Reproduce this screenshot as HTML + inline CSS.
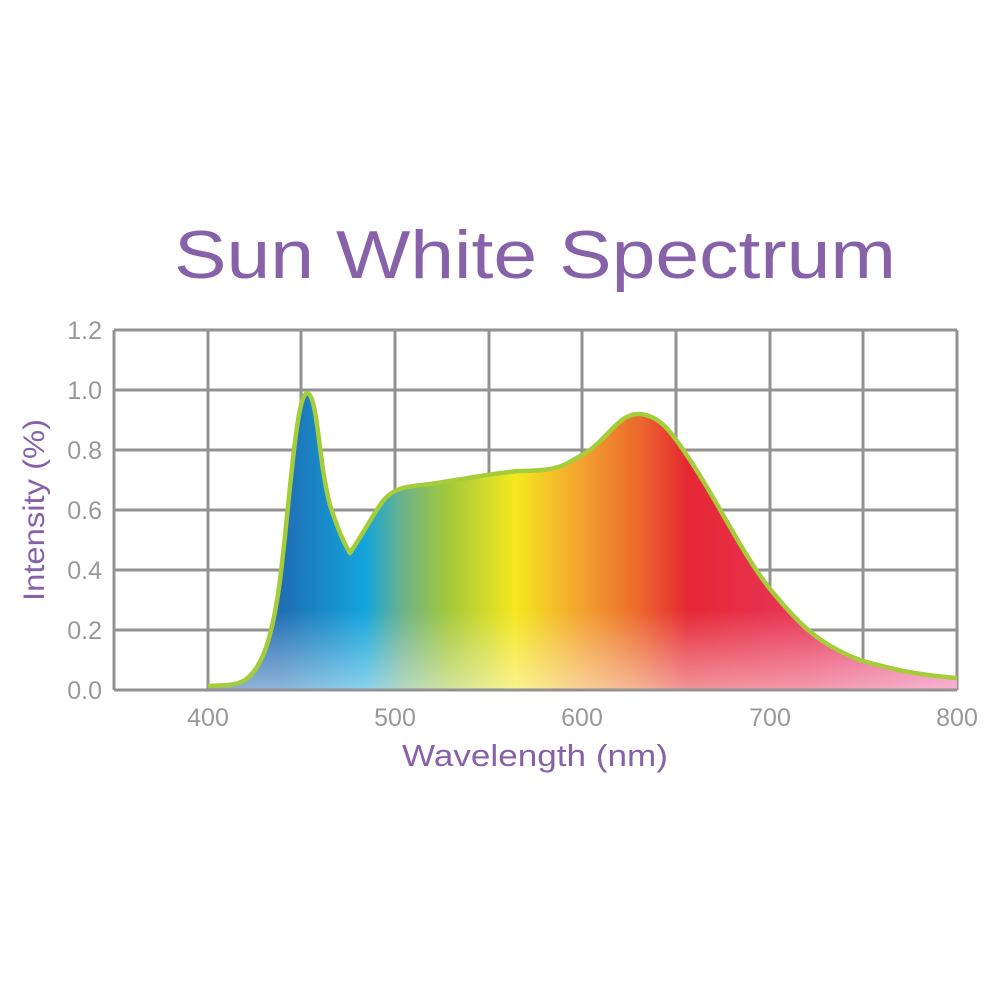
<!DOCTYPE html>
<html><head><style>html,body{margin:0;padding:0;background:#fff;}svg{display:block}</style></head>
<body>
<svg width="1000" height="1000" viewBox="0 0 1000 1000" xmlns="http://www.w3.org/2000/svg" font-family="Liberation Sans, sans-serif">
<defs>
<linearGradient id="h" x1="208" y1="0" x2="957" y2="0" gradientUnits="userSpaceOnUse">
<stop offset="0" stop-color="#2a5ca8"/>
<stop offset="0.1" stop-color="#1f6fb4"/>
<stop offset="0.21" stop-color="#13a5dc"/>
<stop offset="0.26" stop-color="#6cb28a"/>
<stop offset="0.32" stop-color="#a2c83a"/>
<stop offset="0.41" stop-color="#f5e81e"/>
<stop offset="0.5" stop-color="#f3a130"/>
<stop offset="0.57" stop-color="#ec6d2c"/>
<stop offset="0.64" stop-color="#e62734"/>
<stop offset="0.8" stop-color="#e8375a"/>
<stop offset="1" stop-color="#ee6aa6"/>
</linearGradient>
<linearGradient id="v" x1="0" y1="610" x2="0" y2="690" gradientUnits="userSpaceOnUse">
<stop offset="0" stop-color="#fff" stop-opacity="0"/>
<stop offset="1" stop-color="#fff" stop-opacity="0.5"/>
</linearGradient>
</defs>
<text x="535" y="278" text-anchor="middle" font-size="68" fill="#8762a9" textLength="722" lengthAdjust="spacingAndGlyphs">Sun White Spectrum</text>
<g stroke="#929292" stroke-width="3" fill="none">
<path d="M114 330H957M114 390H957M114 450H957M114 510H957M114 570H957M114 630H957"/>
<path d="M114 330V690M208 330V690M301 330V690M395 330V690M489 330V690M582 330V690M676 330V690M770 330V690M863 330V690M957 330V690"/>
</g>
<path d="M208 686 C225 685 235 686 245 680 C262 668 272 640 280 580 C290 500 296 395 307 393 C318 395 318 460 330 505 C338 530 345 545 350 553 C362 535 370 520 380 505 C392 487 405 487 430 484 C470 478 500 472 520 471 C560 470 560 468 590 450 C610 435 620 413 640 414 C660 416 670 430 690 460 C720 505 745 560 775 595 C800 625 820 645 860 660 C900 672 930 676 957 678 L957 690 L208 690 Z" fill="url(#h)"/>
<path d="M208 686 C225 685 235 686 245 680 C262 668 272 640 280 580 C290 500 296 395 307 393 C318 395 318 460 330 505 C338 530 345 545 350 553 C362 535 370 520 380 505 C392 487 405 487 430 484 C470 478 500 472 520 471 C560 470 560 468 590 450 C610 435 620 413 640 414 C660 416 670 430 690 460 C720 505 745 560 775 595 C800 625 820 645 860 660 C900 672 930 676 957 678 L957 690 L208 690 Z" fill="url(#v)"/>
<path d="M208 686 C225 685 235 686 245 680 C262 668 272 640 280 580 C290 500 296 395 307 393 C318 395 318 460 330 505 C338 530 345 545 350 553 C362 535 370 520 380 505 C392 487 405 487 430 484 C470 478 500 472 520 471 C560 470 560 468 590 450 C610 435 620 413 640 414 C660 416 670 430 690 460 C720 505 745 560 775 595 C800 625 820 645 860 660 C900 672 930 676 957 678" fill="none" stroke="#a4cd39" stroke-width="4.5" stroke-linejoin="round"/>
<path d="M114 690H957" stroke="#929292" stroke-width="3"/>
<g fill="#999" font-size="25" text-anchor="end">
<text x="102" y="339">1.2</text><text x="102" y="399">1.0</text><text x="102" y="459">0.8</text>
<text x="102" y="519">0.6</text><text x="102" y="579">0.4</text><text x="102" y="639">0.2</text><text x="102" y="699">0.0</text>
</g>
<g fill="#999" font-size="25" text-anchor="middle">
<text x="208" y="726">400</text><text x="395" y="726">500</text><text x="582" y="726">600</text><text x="770" y="726">700</text><text x="957" y="726">800</text>
</g>
<text x="535" y="766" text-anchor="middle" font-size="31" fill="#8762a9" textLength="266" lengthAdjust="spacingAndGlyphs">Wavelength (nm)</text>
<text transform="translate(44 510) rotate(-90)" text-anchor="middle" font-size="30" fill="#8762a9" textLength="182" lengthAdjust="spacingAndGlyphs">Intensity (%)</text>
</svg>
</body></html>
